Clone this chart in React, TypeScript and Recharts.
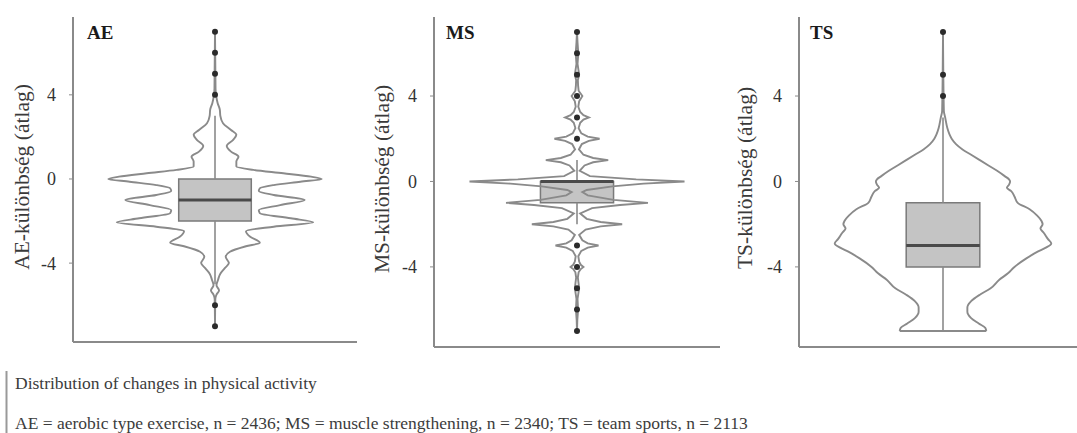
import { ComposedChart, Scatter, XAxis, YAxis, ReferenceArea, ReferenceLine } from 'recharts';

// violin outlines: y level -> half width (1 = widest point across all panels)
const aeLevels = [7, 4.3, 4.0, 3.6, 3.3, 3.0, 2.65, 2.33, 2.1, 1.86, 1.57, 1.3, 1.06, 0.83, 0.59, 0.43, 0.27, 0.11, 0, -0.13, -0.29, -0.44, -0.57, -0.76, -1.0, -1.24, -1.48, -1.63, -1.87, -2.06, -2.27, -2.48, -2.75, -3.03, -3.2, -3.46, -3.7, -4.0, -4.25, -4.5, -4.8, -5.05, -5.3, -5.5, -5.7, -7];
const aeWidths = [0, 0.005, 0.01, 0.025, 0.045, 0.05, 0.075, 0.15, 0.2, 0.17, 0.11, 0.15, 0.22, 0.2, 0.2, 0.36, 0.64, 0.9, 1.0, 0.8, 0.55, 0.42, 0.41, 0.55, 0.84, 0.61, 0.41, 0.42, 0.71, 0.92, 0.55, 0.29, 0.33, 0.42, 0.29, 0.14, 0.1, 0.13, 0.09, 0.05, 0.028, 0.014, 0.038, 0.014, 0.003, 0];

const msLevels = [7, 6.5, 6, 5.5, 5, 4.75, 4.5, 4.25, 4, 3.75, 3.5, 3.25, 3.1, 3, 2.9, 2.75, 2.5, 2.25, 2.1, 2, 1.9, 1.75, 1.5, 1.25, 1.1, 1, 0.9, 0.75, 0.5, 0.25, 0.1, 0, -0.1, -0.23, -0.4, -0.5, -0.65, -0.86, -1, -1.1, -1.25, -1.5, -1.75, -1.9, -2, -2.1, -2.25, -2.5, -2.75, -2.9, -3, -3.1, -3.25, -3.5, -3.75, -3.9, -4, -4.1, -4.25, -4.5, -5, -5.5, -6, -6.5, -7];
const msWidths = [0, 0.005, 0.012, 0.005, 0.02, 0.008, 0.01, 0.015, 0.05, 0.02, 0.012, 0.03, 0.06, 0.11, 0.06, 0.03, 0.015, 0.04, 0.1, 0.21, 0.11, 0.045, 0.018, 0.06, 0.15, 0.29, 0.15, 0.07, 0.025, 0.12, 0.55, 1.0, 0.62, 0.33, 0.09, 0.05, 0.1, 0.34, 0.66, 0.4, 0.14, 0.03, 0.09, 0.22, 0.42, 0.22, 0.08, 0.02, 0.05, 0.1, 0.2, 0.1, 0.04, 0.012, 0.02, 0.035, 0.06, 0.035, 0.015, 0.008, 0.02, 0.005, 0.01, 0.003, 0];

const tsLevels = [7, 3.3, 3, 2.5, 2.2, 2, 1.75, 1.5, 1.25, 1.0, 0.75, 0.5, 0.25, 0.1, 0, -0.15, -0.3, -0.45, -0.7, -1.0, -1.3, -1.6, -1.85, -2.0, -2.2, -2.4, -2.7, -2.9, -3.1, -3.3, -3.6, -4.0, -4.3, -4.6, -5.0, -5.3, -5.6, -5.9, -6.1, -6.4, -6.65, -6.85, -7.0];
const tsWidths = [0, 0.008, 0.02, 0.04, 0.06, 0.08, 0.12, 0.18, 0.26, 0.34, 0.42, 0.5, 0.57, 0.61, 0.62, 0.61, 0.59, 0.63, 0.66, 0.69, 0.8, 0.87, 0.91, 0.92, 0.9, 0.93, 0.97, 1.0, 0.95, 0.87, 0.77, 0.66, 0.6, 0.52, 0.44, 0.34, 0.26, 0.225, 0.225, 0.26, 0.33, 0.39, 0.4];

// box summaries: [whisker low, q1, median, q3, whisker high]
const aeBox = [-5, -2, -1, 0, 3];
const msBox = [-2, -1, 0, 0, 1];
const tsBox = [-7, -4, -3, -1, 3];

const aeOutliers = [4, 5, 6, 7, -6, -7];
const msOutliers = [2, 3, 4, 5, 6, 7, -3, -4, -5, -6, -7];
const tsOutliers = [4, 5, 7];

const yTicks = [-4, 0, 4];
const titles = ['AE', 'MS', 'TS'];
const yLabels = ['AE-különbség (átlag)', 'MS-különbség (átlag)', 'TS-különbség (átlag)'];
const captionTitle = 'Distribution of changes in physical activity';
const captionText = 'AE = aerobic type exercise, n = 2436; MS = muscle strengthening, n = 2340; TS = team sports, n = 2113';

const X_MAX = 1.33;
const BOX_HALF = 0.34;
const Y_DOMAIN: [number, number] = [-7.75, 7.7];
const GREY = '#8a8a8a';
const SERIF = '"Liberation Serif", "Times New Roman", serif';

const NoDot = () => <g />;
const OutlierDot = (p: any) => <circle cx={p.cx} cy={p.cy} r={3} fill="#2b2b2b" />;

type PanelProps = {
  levels: number[];
  widths: number[];
  box: number[];
  outliers: number[];
  curve: 'monotoneY' | 'linear';
  left: number;
  width: number;
  height: number;
  right: number;
};

function ViolinPanel({ levels, widths, box, outliers, curve, left, width, height, right }: PanelProps) {
  const rightSide = levels.map((y, i) => ({ x: widths[i], y }));
  const leftSide = levels.map((y, i) => ({ x: -widths[i], y }));
  const last = levels.length - 1;
  const base = [
    { x: -widths[last], y: levels[last] },
    { x: widths[last], y: levels[last] },
  ];
  const [lo, q1, med, q3, hi] = box;
  const lineStyle = { stroke: GREY, strokeWidth: 1.9, fill: 'none' };

  return (
    <div style={{ position: 'absolute', left, top: 0 }}>
      <ComposedChart width={width} height={height} margin={{ top: 17, right, bottom: 0, left: 0 }}>
        <XAxis
          type="number"
          dataKey="x"
          domain={[-X_MAX, X_MAX]}
          allowDataOverflow
          tick={false}
          tickLine={false}
          height={3}
          axisLine={{ stroke: GREY, strokeWidth: 2 }}
        />
        <YAxis
          type="number"
          dataKey="y"
          domain={Y_DOMAIN}
          allowDataOverflow
          ticks={yTicks}
          width={73}
          tickSize={4}
          tickMargin={13}
          tick={{ fontFamily: SERIF, fontSize: 18, fill: '#333' }}
          tickLine={{ stroke: GREY }}
          axisLine={{ stroke: GREY, strokeWidth: 2 }}
        />
        <Scatter data={rightSide} line={lineStyle} lineJointType={curve} shape={NoDot} isAnimationActive={false} />
        <Scatter data={leftSide} line={lineStyle} lineJointType={curve} shape={NoDot} isAnimationActive={false} />
        <Scatter data={base} line={lineStyle} lineJointType="linear" shape={NoDot} isAnimationActive={false} />
        <ReferenceLine segment={[{ x: 0, y: q3 }, { x: 0, y: hi }]} stroke={GREY} strokeWidth={1.6} />
        <ReferenceLine segment={[{ x: 0, y: lo }, { x: 0, y: q1 }]} stroke={GREY} strokeWidth={1.6} />
        <ReferenceArea x1={-BOX_HALF} x2={BOX_HALF} y1={q1} y2={q3} fill="#c4c4c4" fillOpacity={1} stroke="#7a7a7a" strokeWidth={1.5} />
        <ReferenceLine segment={[{ x: -BOX_HALF, y: med }, { x: BOX_HALF, y: med }]} stroke="#4a4a4a" strokeWidth={3} />
        <Scatter data={outliers.map((y) => ({ x: 0, y }))} shape={OutlierDot} isAnimationActive={false} />
      </ComposedChart>
    </div>
  );
}

export default function App() {
  const labelPos = [
    [22, 177],
    [382, 179],
    [745, 178],
  ];
  const titlePos = [87, 446, 810];

  return (
    <div style={{ position: 'absolute', left: 0, top: 0, width: 1077, height: 433, overflow: 'hidden', background: '#fff' }}>
      <ViolinPanel levels={aeLevels} widths={aeWidths} box={aeBox} outliers={aeOutliers} curve="monotoneY" left={0} width={360} height={345} right={3} />
      <ViolinPanel levels={msLevels} widths={msWidths} box={msBox} outliers={msOutliers} curve="linear" left={361} width={359} height={350} right={0} />
      <ViolinPanel levels={tsLevels} widths={tsWidths} box={tsBox} outliers={tsOutliers} curve="monotoneY" left={726} width={361} height={350} right={0} />

      <svg width={1077} height={433} style={{ position: 'absolute', left: 0, top: 0, pointerEvents: 'none' }}>
        {titles.map((t, i) => (
          <text key={t} x={titlePos[i]} y={39} fontFamily={SERIF} fontWeight="bold" fontSize={19} fill="#1a1a1a">
            {t}
          </text>
        ))}
        {yLabels.map((t, i) => (
          <text
            key={t}
            transform={`translate(${labelPos[i][0]},${labelPos[i][1]}) rotate(-90)`}
            textAnchor="middle"
            dominantBaseline="central"
            fontFamily={SERIF}
            fontSize={21.5}
            fill="#3a3a3a"
          >
            {t}
          </text>
        ))}
        <line x1={6.5} y1={371} x2={6.5} y2={433} stroke="#999" strokeWidth={2} />
        <text x={15} y={389} fontFamily={SERIF} fontSize={17.5} fill="#3c3c3c">
          {captionTitle}
        </text>
        <text x={15} y={429} fontFamily={SERIF} fontSize={17.5} fill="#3c3c3c">
          {captionText}
        </text>
      </svg>
    </div>
  );
}
